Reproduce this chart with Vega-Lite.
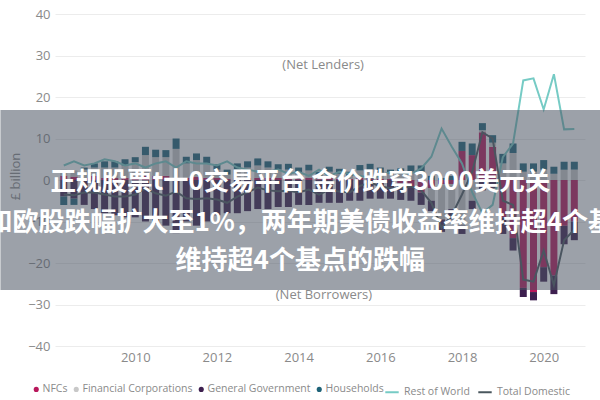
{
  "$schema": "https://vega.github.io/schema/vega-lite/v6.json",
  "autosize": {"type": "none"},
  "width": 530,
  "height": 332,
  "padding": {"left": 55, "top": 14, "right": 15, "bottom": 54},
  "background": "white",
  "config": {
    "view": {"stroke": null},
    "font": "Open Sans",
    "axis": {"labelFont": "Open Sans", "titleFont": "Open Sans"},
    "legend": {"labelFont": "Open Sans"}
  },
  "datasets": {
    "q": [
      {"t": 2008.25, "NFCs": 1.0, "Financial Corporations": 1.5, "General Government": -4.0, "Households": -2.0, "Rest of World": 3.5, "Total Domestic": -3.5},
      {"t": 2008.5, "NFCs": 0.8, "Financial Corporations": 1.5, "General Government": -4.5, "Households": -1.5, "Rest of World": 4.5, "Total Domestic": -3.7},
      {"t": 2008.75, "NFCs": 0.5, "Financial Corporations": 2.0, "General Government": -6.0, "Households": 0.5, "Rest of World": 3.5, "Total Domestic": -3.0},
      {"t": 2009.0, "NFCs": 1.0, "Financial Corporations": 2.0, "General Government": -7.0, "Households": 1.0, "Rest of World": 4.0, "Total Domestic": -3.0},
      {"t": 2009.25, "NFCs": 0.5, "Financial Corporations": 2.5, "General Government": -8.0, "Households": 1.5, "Rest of World": 5.0, "Total Domestic": -3.5},
      {"t": 2009.5, "NFCs": 0.5, "Financial Corporations": 2.5, "General Government": -8.5, "Households": 1.5, "Rest of World": 4.5, "Total Domestic": -4.0},
      {"t": 2009.75, "NFCs": 0.5, "Financial Corporations": 3.0, "General Government": -9.0, "Households": 1.5, "Rest of World": 3.5, "Total Domestic": -4.0},
      {"t": 2010.0, "NFCs": 0.8, "Financial Corporations": 3.5, "General Government": -9.0, "Households": 1.2, "Rest of World": 4.0, "Total Domestic": -3.5},
      {"t": 2010.25, "NFCs": 1.0, "Financial Corporations": 5.0, "General Government": -10.0, "Households": 2.0, "Rest of World": 3.0, "Total Domestic": -2.0},
      {"t": 2010.5, "NFCs": 1.0, "Financial Corporations": 4.5, "General Government": -10.5, "Households": 1.8, "Rest of World": 4.0, "Total Domestic": -3.2},
      {"t": 2010.75, "NFCs": 1.0, "Financial Corporations": 4.5, "General Government": -11.0, "Households": 1.7, "Rest of World": 4.5, "Total Domestic": -3.8},
      {"t": 2011.0, "NFCs": 0.5, "Financial Corporations": 7.0, "General Government": -12.8, "Households": 2.5, "Rest of World": 3.0, "Total Domestic": -2.8},
      {"t": 2011.25, "NFCs": 0.5, "Financial Corporations": 3.5, "General Government": -10.0, "Households": 1.6, "Rest of World": 4.5, "Total Domestic": -4.4},
      {"t": 2011.5, "NFCs": 0.8, "Financial Corporations": 4.0, "General Government": -11.0, "Households": 1.6, "Rest of World": 4.0, "Total Domestic": -4.6},
      {"t": 2011.75, "NFCs": 0.5, "Financial Corporations": 3.5, "General Government": -10.0, "Households": 1.6, "Rest of World": 4.0, "Total Domestic": -4.4},
      {"t": 2012.0, "NFCs": 0.5, "Financial Corporations": 2.0, "General Government": -8.5, "Households": 1.3, "Rest of World": 3.5, "Total Domestic": -4.7},
      {"t": 2012.25, "NFCs": 0.3, "Financial Corporations": 1.0, "General Government": -8.0, "Households": 1.2, "Rest of World": 4.5, "Total Domestic": -5.5},
      {"t": 2012.5, "NFCs": 0.5, "Financial Corporations": 2.0, "General Government": -8.0, "Households": 1.5, "Rest of World": 3.0, "Total Domestic": -4.0},
      {"t": 2012.75, "NFCs": 0.5, "Financial Corporations": 2.5, "General Government": -7.5, "Households": 1.5, "Rest of World": 2.5, "Total Domestic": -3.0},
      {"t": 2013.0, "NFCs": 0.5, "Financial Corporations": 3.0, "General Government": -7.0, "Households": 1.7, "Rest of World": 2.0, "Total Domestic": -1.8},
      {"t": 2013.25, "NFCs": 0.5, "Financial Corporations": 2.5, "General Government": -7.0, "Households": 1.5, "Rest of World": 2.0, "Total Domestic": -2.5},
      {"t": 2013.5, "NFCs": 0.5, "Financial Corporations": 2.0, "General Government": -6.5, "Households": 1.3, "Rest of World": 2.5, "Total Domestic": -2.7},
      {"t": 2013.75, "NFCs": 0.3, "Financial Corporations": 2.2, "General Government": -6.5, "Households": 1.4, "Rest of World": 1.5, "Total Domestic": -2.6},
      {"t": 2014.0, "NFCs": 0.3, "Financial Corporations": 1.5, "General Government": -6.0, "Households": 1.2, "Rest of World": 2.0, "Total Domestic": -3.0},
      {"t": 2014.25, "NFCs": 0.5, "Financial Corporations": 1.8, "General Government": -6.0, "Households": 1.4, "Rest of World": 1.0, "Total Domestic": -2.3},
      {"t": 2014.5, "NFCs": 0.2, "Financial Corporations": 0.8, "General Government": -5.5, "Households": 1.0, "Rest of World": 2.5, "Total Domestic": -3.5},
      {"t": 2014.75, "NFCs": 0.5, "Financial Corporations": 1.5, "General Government": -5.5, "Households": 1.2, "Rest of World": 1.0, "Total Domestic": -2.3},
      {"t": 2015.0, "NFCs": 0.3, "Financial Corporations": 1.2, "General Government": -5.5, "Households": 1.2, "Rest of World": 2.0, "Total Domestic": -2.8},
      {"t": 2015.25, "NFCs": 0.3, "Financial Corporations": 0.7, "General Government": -5.0, "Households": 1.0, "Rest of World": 1.5, "Total Domestic": -3.0},
      {"t": 2015.5, "NFCs": 0.5, "Financial Corporations": 1.8, "General Government": -5.0, "Households": 1.3, "Rest of World": 1.0, "Total Domestic": -1.4},
      {"t": 2015.75, "NFCs": 0.5, "Financial Corporations": 2.0, "General Government": -4.5, "Households": 1.4, "Rest of World": 0.5, "Total Domestic": -0.6},
      {"t": 2016.0, "NFCs": 0.3, "Financial Corporations": 1.5, "General Government": -4.5, "Households": 1.2, "Rest of World": 1.0, "Total Domestic": -1.5},
      {"t": 2016.25, "NFCs": 0.3, "Financial Corporations": 1.2, "General Government": -4.5, "Households": 1.0, "Rest of World": 2.0, "Total Domestic": -2.0},
      {"t": 2016.5, "NFCs": -0.8, "Financial Corporations": 1.6, "General Government": -4.0, "Households": 1.2, "Rest of World": 1.8, "Total Domestic": -2.0},
      {"t": 2016.75, "NFCs": -1.5, "Financial Corporations": 2.0, "General Government": -3.5, "Households": 1.5, "Rest of World": 1.5, "Total Domestic": -1.5},
      {"t": 2017.0, "NFCs": -3.0, "Financial Corporations": 2.0, "General Government": -3.0, "Households": 1.5, "Rest of World": 2.8, "Total Domestic": -2.5},
      {"t": 2017.25, "NFCs": -2.0, "Financial Corporations": -3.0, "General Government": -2.5, "Households": 1.0, "Rest of World": 5.6, "Total Domestic": -5.5},
      {"t": 2017.5, "NFCs": -1.0, "Financial Corporations": -8.5, "General Government": -3.0, "Households": 0.5, "Rest of World": 12.4, "Total Domestic": -11.5},
      {"t": 2017.75, "NFCs": -1.0, "Financial Corporations": -6.0, "General Government": -2.5, "Households": 1.0, "Rest of World": 8.0, "Total Domestic": -8.5},
      {"t": 2018.0, "NFCs": 7.0, "Financial Corporations": -11.0, "General Government": -2.0, "Households": 2.2, "Rest of World": 4.0, "Total Domestic": -3.5},
      {"t": 2018.25, "NFCs": 6.0, "Financial Corporations": -5.0, "General Government": -2.0, "Households": 2.8, "Rest of World": -3.0, "Total Domestic": 2.0},
      {"t": 2018.5, "NFCs": 11.5, "Financial Corporations": 0.5, "General Government": -2.5, "Households": 1.7, "Rest of World": -8.0, "Total Domestic": 11.5},
      {"t": 2018.75, "NFCs": 8.0, "Financial Corporations": 1.0, "General Government": -2.0, "Households": 1.8, "Rest of World": -6.0, "Total Domestic": 10.0},
      {"t": 2019.0, "NFCs": -9.0, "Financial Corporations": 4.0, "General Government": -4.0, "Households": 2.3, "Rest of World": 5.5, "Total Domestic": -5.0},
      {"t": 2019.25, "NFCs": -14.0, "Financial Corporations": 6.5, "General Government": -3.0, "Households": 2.3, "Rest of World": 8.8, "Total Domestic": -6.0},
      {"t": 2019.5, "NFCs": -26.0, "Financial Corporations": 2.0, "General Government": -2.2, "Households": 2.0, "Rest of World": 24.0, "Total Domestic": -24.0},
      {"t": 2019.75, "NFCs": -27.0, "Financial Corporations": 2.0, "General Government": -2.0, "Households": 2.0, "Rest of World": 24.5, "Total Domestic": -24.5},
      {"t": 2020.0, "NFCs": -21.0, "Financial Corporations": 2.5, "General Government": -3.5, "Households": 2.3, "Rest of World": 17.0, "Total Domestic": -17.0},
      {"t": 2020.25, "NFCs": -23.0, "Financial Corporations": 1.5, "General Government": -4.5, "Households": 1.7, "Rest of World": 25.5, "Total Domestic": -25.3},
      {"t": 2020.5, "NFCs": -11.0, "Financial Corporations": 2.5, "General Government": -4.5, "Households": 1.9, "Rest of World": 12.2, "Total Domestic": -14.5},
      {"t": 2020.75, "NFCs": -10.0, "Financial Corporations": 2.5, "General Government": -4.5, "Households": 1.9, "Rest of World": 12.3, "Total Domestic": -12.0}
    ],
    "notes": [
      {"t": 2014.6, "v": 27.7, "label": "(Net Lenders)"},
      {"t": 2014.62, "v": -27.7, "label": "(Net Borrowers)"}
    ],
    "banner": [
      {"t1": 2006.7, "t2": 2021.4, "v1": 16.87, "v2": -26.5}
    ],
    "bannerText": [
      {"line": 1, "t": 2014.04, "v": -0.45, "label": "正规股票t十0交易平台 金价跌穿3000美元关"},
      {"line": 2, "t": 2014.04, "v": -10.4, "label": "和欧股跌幅扩大至1%，两年期美债收益率维持超4个基"},
      {"line": 3, "t": 2014.04, "v": -19.5, "label": "维持超4个基点的跌幅"}
    ]
  },
  "layer": [
    {
      "data": {"name": "q"},
      "transform": [
        {"fold": ["NFCs", "Financial Corporations", "General Government", "Households"], "as": ["sector", "value"]},
        {"calculate": "indexof(['NFCs', 'Financial Corporations', 'General Government', 'Households'], datum.sector)", "as": "stackOrder"}
      ],
      "mark": {"type": "bar", "size": 7},
      "encoding": {
        "x": {
          "field": "t", "type": "quantitative",
          "scale": {"domain": [2008.158, 2020.889], "nice": false, "zero": false},
          "axis": {
            "title": null, "values": [2010, 2012, 2014, 2016, 2018, 2020], "format": "d",
            "grid": false, "domain": false, "ticks": false,
            "labelFontSize": 13, "labelColor": "#8a8a8a", "labelPadding": 5
          }
        },
        "y": {
          "field": "value", "type": "quantitative", "stack": "zero",
          "scale": {"domain": [-40, 40], "nice": false},
          "axis": {
            "title": "£ billion", "values": [-40, -30, -20, -10, 0, 10, 20, 30, 40],
            "grid": true, "gridColor": "#ececec", "domain": false, "ticks": false,
            "labelFontSize": 13, "labelColor": "#8a8a8a", "labelPadding": 5,
            "titleFontSize": 13, "titleColor": "#8a8a8a", "titleFontWeight": "normal",
            "titleX": -40, "titleY": 162, "titleAngle": -90, "titleAlign": "center", "titleBaseline": "middle"
          }
        },
        "color": {
          "field": "sector", "type": "nominal",
          "sort": ["NFCs", "Financial Corporations", "General Government", "Households"],
          "scale": {
            "domain": ["NFCs", "Financial Corporations", "General Government", "Households"],
            "range": ["#b8175b", "#c8c8c8", "#3d1f4f", "#1e6378"]
          },
          "legend": {
            "title": null, "orient": "none", "legendX": -24, "legendY": 370,
            "direction": "horizontal", "columns": 4, "symbolType": "circle", "symbolSize": 26,
            "labelFontSize": 10.5, "labelColor": "#8a8a8a", "labelOffset": 1, "columnPadding": 3
          }
        },
        "order": {"field": "stackOrder", "type": "quantitative", "sort": "ascending"}
      }
    },
    {
      "data": {"name": "q"},
      "transform": [
        {"fold": ["Rest of World", "Total Domestic"], "as": ["series", "lv"]}
      ],
      "mark": {"type": "line", "strokeWidth": 2},
      "encoding": {
        "x": {"field": "t", "type": "quantitative"},
        "y": {"field": "lv", "type": "quantitative"},
        "stroke": {
          "field": "series", "type": "nominal",
          "scale": {"domain": ["Rest of World", "Total Domestic"], "range": ["#76cbc5", "#4a575e"]},
          "legend": {
            "title": null, "orient": "none", "legendX": 329, "legendY": 370,
            "direction": "horizontal", "columns": 2, "symbolType": "stroke", "symbolSize": 180, "symbolStrokeWidth": 2,
            "labelFontSize": 10.5, "labelColor": "#8a8a8a", "labelOffset": 4, "columnPadding": 4
          }
        }
      }
    },
    {
      "data": {"name": "notes"},
      "mark": {"type": "text", "fontSize": 13, "color": "#8a8a8a", "align": "center", "baseline": "middle"},
      "encoding": {
        "x": {"field": "t", "type": "quantitative"},
        "y": {"field": "v", "type": "quantitative"},
        "text": {"field": "label"}
      }
    },
    {
      "data": {"name": "banner"},
      "mark": {"type": "rect", "fill": "#4a5362", "opacity": 0.55, "clip": false},
      "encoding": {
        "x": {"field": "t1", "type": "quantitative"},
        "x2": {"field": "t2"},
        "y": {"field": "v1", "type": "quantitative"},
        "y2": {"field": "v2"}
      }
    },
    {
      "data": {"name": "bannerText"},
      "transform": [{"filter": "datum.line == 1"}],
      "mark": {"type": "text", "font": "Noto Sans CJK SC", "fontWeight": "bold", "fontSize": 25.5, "color": "white", "align": "center", "baseline": "middle", "clip": false},
      "encoding": {
        "x": {"field": "t", "type": "quantitative"},
        "y": {"field": "v", "type": "quantitative"},
        "text": {"field": "label"}
      }
    },
    {
      "data": {"name": "bannerText"},
      "transform": [{"filter": "datum.line != 1"}],
      "mark": {"type": "text", "font": "Noto Sans CJK SC", "fontWeight": "bold", "fontSize": 26, "color": "white", "align": "center", "baseline": "middle", "clip": false},
      "encoding": {
        "x": {"field": "t", "type": "quantitative"},
        "y": {"field": "v", "type": "quantitative"},
        "text": {"field": "label"}
      }
    }
  ]
}
